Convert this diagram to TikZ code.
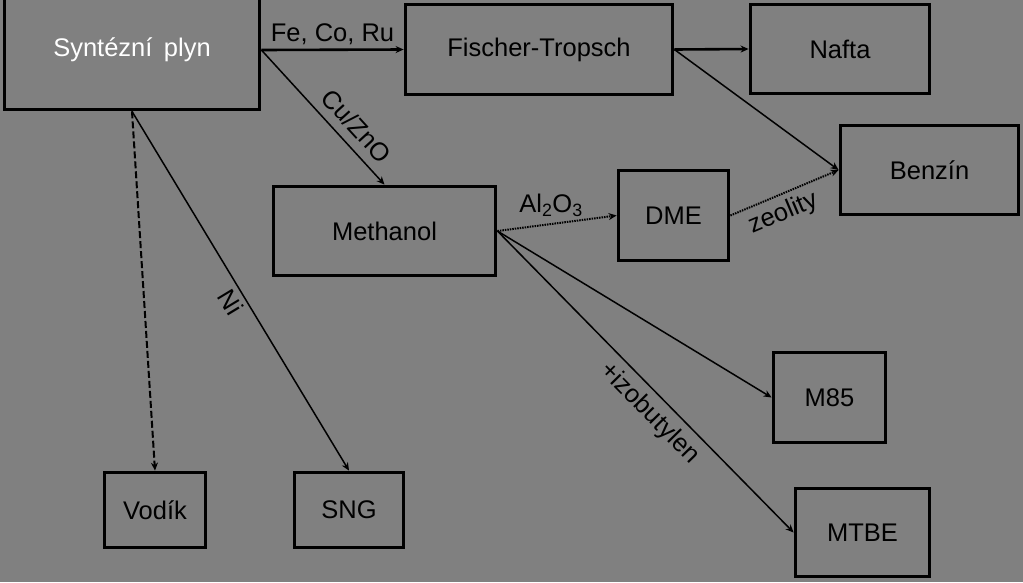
\documentclass[tikz,border=0pt]{standalone}
\usepackage{fontspec}
\setmainfont{Liberation Sans}
\usetikzlibrary{arrows.meta}
\definecolor{bggray}{RGB}{128,128,128}
\begin{document}
\begin{tikzpicture}[x=1pt,y=-1pt,
  box/.style={draw=black,line width=3.8pt,rectangle,inner sep=0pt,font=\fontsize{25.5}{29}\selectfont},
  conn/.style={line width=1.5pt,-{Stealth[length=8pt,width=7pt]}},
  thick conn/.style={conn,line width=2.6pt},
  lbl/.style={inner sep=1pt,font=\fontsize{25.5}{29}\selectfont}]
\fill[bggray] (0,0) rectangle (1023,582);
\clip (0,0) rectangle (1023,582);
\node[box,minimum width=255pt,minimum height=119pt,text=white] (syn) at (132,50) {Syntézní\hspace{0.45em}plyn};
\node[box,minimum width=267pt,minimum height=90pt] (ft) at (539,49.5) {Fischer-Tropsch};
\node[box,minimum width=179pt,minimum height=89pt] (nafta) at (840,49) {Nafta};
\node[box,minimum width=178pt,minimum height=89pt] (benzin) at (929.5,170) {Benzín};
\node[box,minimum width=110pt,minimum height=90pt] (dme) at (673.5,215.5) {DME};
\node[box,minimum width=222pt,minimum height=89pt] (meth) at (384.5,231) {Methanol};
\node[box,minimum width=112pt,minimum height=90pt] (m85) at (829.5,397.5) {M85};
\node[box,minimum width=134pt,minimum height=88pt] (mtbe) at (862.5,532.5) {MTBE};
\node[box,minimum width=101pt,minimum height=75pt] (vodik) at (155,510) {Vodík};
\node[box,minimum width=109pt,minimum height=75pt] (sng) at (349,510) {SNG};

\draw[thick conn] (syn.east) -- node[lbl,above=3pt] {Fe, Co, Ru} (ft.west);
\draw[conn] (syn.east) -- node[lbl,pos=0.66,sloped,above=8pt] {Cu/ZnO} (meth.north);
\draw[thick conn] (ft.east) -- (nafta.west);
\draw[conn] (ft.east) -- (benzin.west);
\draw[conn,densely dotted,line width=2pt] (meth.east) -- node[lbl,pos=0.45,above=5pt] {Al\textsubscript{2}O\textsubscript{3}} (dme.west);
\draw[conn,densely dotted,line width=2pt] (dme.east) -- node[lbl,pos=0.42,sloped,below=5pt] {zeolity} (benzin.west);
\draw[conn] (meth.east) -- (m85.west);
\draw[conn] (meth.east) -- node[lbl,pos=0.56,sloped,below=6pt] {+izobutylen} (mtbe.west);
\draw[conn,dash pattern=on 7pt off 3pt,line width=2pt] (syn.south) -- (vodik.north);
\draw[conn] (syn.south) -- node[lbl,pos=0.51,sloped,below=3pt] {Ni} (sng.north);
\end{tikzpicture}
\end{document}
